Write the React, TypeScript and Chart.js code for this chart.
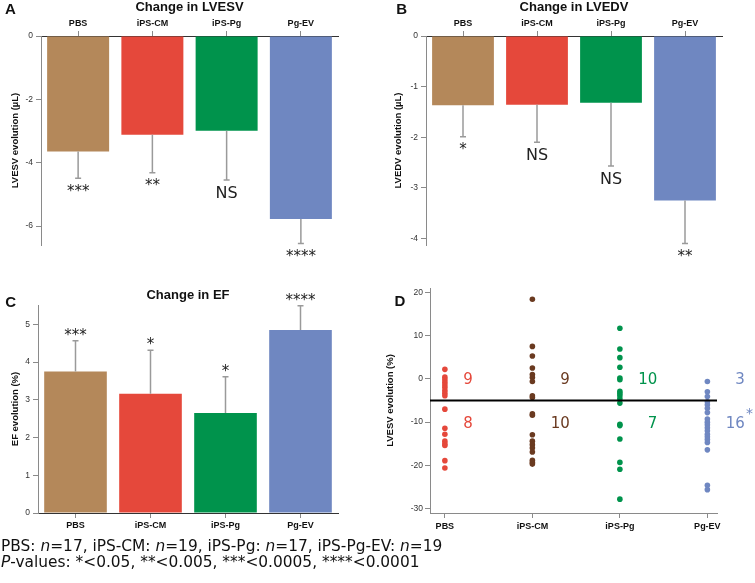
import React, { useEffect, useRef } from "react";
import { Chart, registerables } from "chart.js";
Chart.register(...registerables);

const groups = ["PBS", "iPS-CM", "iPS-Pg", "Pg-EV"];
const barColors = ["#B4885A", "#E5483B", "#00934C", "#6F87C1"];
const dotColors = ["#E5483B", "#6A3A20", "#00934C", "#6F87C1"];

const lvesvMean = [-3.65, -3.12, -2.99, -5.78];
const lvesvErr = [0.84, 1.2, 1.56, 0.77];
const lvesvSig = ["***", "**", "NS", "****"];
const lvesvTicks = [0, -2, -4, -6];

const lvedvMean = [-1.37, -1.36, -1.32, -3.25];
const lvedvErr = [0.62, 0.74, 1.25, 0.85];
const lvedvSig = ["*", "NS", "NS", "**"];
const lvedvTicks = [0, -1, -2, -3, -4];

const efMean = [3.75, 3.16, 2.65, 4.85];
const efErr = [0.81, 1.15, 0.96, 0.64];
const efSig = ["***", "*", "*", "****"];
const efTicks = [0, 1, 2, 3, 4, 5];

const dPBS = [2.2, 0.4, -0.2, -0.8, -1.4, -2.0, -2.7, -3.3, -3.9, -7.0, -11.4, -12.8, -14.4, -15.0, -15.4, -18.9, -20.6];
const dCM = [18.4, 7.5, 5.3, 2.5, 1.0, 0.3, -0.6, -3.9, -4.3, -8.1, -8.4, -12.9, -14.4, -15.2, -16.0, -16.9, -18.8, -19.3, -19.7];
const dPg = [11.7, 6.9, 4.9, 2.7, 0.2, -0.2, -2.9, -3.4, -3.9, -4.6, -5.6, -10.5, -10.8, -13.9, -19.3, -20.9, -27.8];
const dEV = [-0.6, -3.0, -4.1, -5.3, -6.0, -6.8, -7.8, -9.3, -10.0, -10.6, -11.3, -12.0, -12.8, -13.4, -14.0, -14.7, -16.4, -24.6, -25.6];
const dThreshold = -5;
const dAbove = [9, 9, 10, 3];
const dBelow = [8, 10, 7, 16];
const dBelowMark = ["", "", "", "*"];
const dTicks = [20, 10, 0, -10, -20, -30];

const SANS = "'Liberation Sans', Arial, sans-serif";
const DJ = "'DejaVu Sans', sans-serif";

type BarP = {
  title: string; letter: string; letterX: number; letterY: number; yTitle: string; yTitleX: number;
  means: number[]; errs: number[]; sig: string[]; titleY: number;
};

function barPlugin(p: BarP) {
  return {
    id: "barExtras",
    afterDatasetsDraw(chart: any) {
      const { ctx } = chart;
      const x = chart.scales.x, y = chart.scales.y;
      const ca = chart.chartArea;
      ctx.save();
      p.means.forEach((m, i) => {
        const dir = m < 0 ? -1 : 1;
        const end = m + dir * p.errs[i];
        const px = x.getPixelForValue(i);
        const y0 = y.getPixelForValue(m), y1 = y.getPixelForValue(end);
        ctx.strokeStyle = "#9a9a9a";
        ctx.lineWidth = 1.5;
        ctx.beginPath();
        ctx.moveTo(px, y0); ctx.lineTo(px, y1);
        ctx.moveTo(px - 3, y1); ctx.lineTo(px + 3, y1);
        ctx.stroke();
        const s = p.sig[i];
        ctx.fillStyle = "#222";
        ctx.font = (s === "NS" ? "16px " : "15px ") + DJ;
        ctx.textAlign = "center";
        ctx.textBaseline = "alphabetic";
        ctx.fillText(s, px, dir < 0 ? y1 + 17.5 : y1 - 1);
      });
      ctx.fillStyle = "#111";
      ctx.font = "bold 13px " + SANS;
      ctx.textAlign = "center";
      ctx.textBaseline = "middle";
      ctx.fillText(p.title, (ca.left + ca.right) / 2, p.titleY);
      ctx.font = "bold 15px " + SANS;
      ctx.fillText(p.letter, p.letterX, p.letterY);
      ctx.translate(p.yTitleX, (ca.top + ca.bottom) / 2);
      ctx.rotate(-Math.PI / 2);
      ctx.font = "bold 9.5px " + SANS;
      ctx.fillText(p.yTitle, 0, 0);
      ctx.restore();
    },
  };
}

function axisCommon() {
  return {
    grid: { display: true, drawOnChartArea: false, drawTicks: true, tickLength: 5, color: "#8a8a8a", offset: false },
    border: { display: true, color: "#8a8a8a", width: 1 },
  };
}

function barConfig(o: {
  means: number[]; errs: number[]; sig: string[]; min: number; max: number; ticks: number[];
  xPos: string; xH: number; yW: number; pad: any; title: string; titleY: number; letter: string;
  letterX: number; letterY: number; yTitle: string; yTitleX: number;
}) {
  return {
    type: "bar",
    data: {
      labels: groups,
      datasets: [{
        data: o.means, backgroundColor: barColors, borderWidth: 0,
        categoryPercentage: 1, barPercentage: 0.835,
      }],
    },
    options: {
      responsive: false, animation: false, devicePixelRatio: 1,
      layout: { padding: o.pad },
      plugins: { legend: { display: false }, tooltip: { enabled: false }, title: { display: false } },
      scales: {
        x: {
          position: o.xPos,
          ...axisCommon(),
          border: { display: true, color: "#333", width: 1 },
          ticks: { font: { family: SANS, size: 9, weight: "bold" }, color: "#111", padding: 2, maxRotation: 0 },
          afterFit: (s: any) => { s.height = o.xH; },
        },
        y: {
          min: o.min, max: o.max,
          ...axisCommon(),
          ticks: { font: { family: SANS, size: 8.5 }, color: "#333", padding: 3 },
          afterBuildTicks: (s: any) => { s.ticks = o.ticks.map((v) => ({ value: v })); },
          afterFit: (s: any) => { s.width = o.yW; },
        },
      },
    },
    plugins: [barPlugin({
      title: o.title, letter: o.letter, letterX: o.letterX, letterY: o.letterY, yTitle: o.yTitle,
      yTitleX: o.yTitleX, means: o.means, errs: o.errs, sig: o.sig, titleY: o.titleY,
    })],
  };
}

const dxMin = -0.17, dxMax = 3.11;

function dConfig() {
  const sets = [dPBS, dCM, dPg, dEV];
  const countOffsets = [28, 37.5, 37.5, 37.5];
  const plugin = {
    id: "dExtras",
    afterDatasetsDraw(chart: any) {
      const { ctx } = chart;
      const x = chart.scales.x, y = chart.scales.y;
      const ca = chart.chartArea;
      ctx.save();
      groups.forEach((g, i) => {
        const rx = x.getPixelForValue(i) + countOffsets[i];
        ctx.fillStyle = dotColors[i];
        ctx.font = "15px " + DJ;
        ctx.textAlign = "right";
        ctx.textBaseline = "alphabetic";
        ctx.fillText(String(dAbove[i]), rx, y.getPixelForValue(0) + 5.5);
        ctx.fillText(String(dBelow[i]), rx, y.getPixelForValue(-10) + 5.5);
        if (dBelowMark[i]) {
          ctx.font = "14px " + DJ;
          ctx.textAlign = "left";
          ctx.fillText(dBelowMark[i], rx + 1, y.getPixelForValue(-10) - 4);
        }
      });
      ctx.fillStyle = "#111";
      ctx.font = "bold 15px " + SANS;
      ctx.textAlign = "center";
      ctx.textBaseline = "middle";
      ctx.fillText("D", 25, 32.3);
      ctx.translate(15, (ca.top + ca.bottom) / 2);
      ctx.rotate(-Math.PI / 2);
      ctx.font = "bold 9.5px " + SANS;
      ctx.fillText("LVESV evolution (%)", 0, 0);
      ctx.restore();
    },
  };
  return {
    type: "scatter",
    data: {
      datasets: [
        ...sets.map((arr, gi) => ({
          data: arr.map((v) => ({ x: gi, y: v })),
          backgroundColor: dotColors[gi], borderWidth: 0, pointRadius: 2.8, order: 1,
        })),
        {
          type: "line",
          data: [{ x: dxMin, y: dThreshold }, { x: dxMax, y: dThreshold }],
          borderColor: "#000", borderWidth: 2, pointRadius: 0, order: 0,
        },
      ],
    },
    options: {
      responsive: false, animation: false, devicePixelRatio: 1,
      layout: { padding: { left: 0, top: 18, right: 38, bottom: 0 } },
      plugins: { legend: { display: false }, tooltip: { enabled: false } },
      scales: {
        x: {
          type: "linear", min: dxMin, max: dxMax,
          ...axisCommon(),
          ticks: {
            font: { family: SANS, size: 9, weight: "bold" }, color: "#111", padding: 3, maxRotation: 0,
            callback: (v: any) => groups[Math.round(v)] ?? "",
          },
          afterBuildTicks: (s: any) => { s.ticks = [0, 1, 2, 3].map((v) => ({ value: v })); },
          afterFit: (s: any) => { s.height = 27; },
        },
        y: {
          min: -31, max: 21,
          ...axisCommon(),
          ticks: { font: { family: SANS, size: 8.5 }, color: "#333", padding: 2 },
          afterBuildTicks: (s: any) => { s.ticks = dTicks.map((v) => ({ value: v })); },
          afterFit: (s: any) => { s.width = 55; },
        },
      },
    },
    plugins: [plugin],
  };
}

function ChartBox(props: { left: number; top: number; width: number; height: number; make: () => any }) {
  const ref = useRef<HTMLCanvasElement | null>(null);
  useEffect(() => {
    const chart = new Chart(ref.current as HTMLCanvasElement, props.make());
    return () => chart.destroy();
  }, []);
  return (
    <canvas
      ref={ref}
      width={props.width}
      height={props.height}
      style={{ position: "absolute", left: props.left, top: props.top, width: props.width, height: props.height }}
    />
  );
}

export default function App() {
  const foot = { position: "absolute" as const, left: 1, fontFamily: "'DejaVu Sans', sans-serif", fontSize: 15.4, lineHeight: "16px", color: "#111", whiteSpace: "nowrap" as const };
  return (
    <div style={{ position: "absolute", left: 0, top: 0, width: 755, height: 583, background: "#fff", overflow: "hidden" }}>
      <ChartBox left={0} top={0} width={375} height={270} make={() => barConfig({
        means: lvesvMean, errs: lvesvErr, sig: lvesvSig, min: -6.6, max: 0, ticks: lvesvTicks,
        xPos: "top", xH: 36, yW: 41, pad: { left: 0, top: 0, right: 37, bottom: 25 },
        title: "Change in LVESV", titleY: 7.5, letter: "A", letterX: 10.5, letterY: 10.3,
        yTitle: "LVESV evolution (µL)", yTitleX: 15,
      })} />
      <ChartBox left={375} top={0} width={380} height={270} make={() => barConfig({
        means: lvedvMean, errs: lvedvErr, sig: lvedvSig, min: -4.13, max: 0, ticks: lvedvTicks,
        xPos: "top", xH: 36, yW: 51, pad: { left: 0, top: 0, right: 33, bottom: 25 },
        title: "Change in LVEDV", titleY: 7.5, letter: "B", letterX: 26.7, letterY: 10.3,
        yTitle: "LVEDV evolution (µL)", yTitleX: 23.3,
      })} />
      <ChartBox left={0} top={270} width={375} height={270} make={() => barConfig({
        means: efMean, errs: efErr, sig: efSig, min: 0, max: 5.51, ticks: efTicks,
        xPos: "bottom", xH: 27, yW: 38, pad: { left: 0, top: 35, right: 37, bottom: 0 },
        title: "Change in EF", titleY: 25, letter: "C", letterX: 10.7, letterY: 33.3,
        yTitle: "EF evolution (%)", yTitleX: 15,
      })} />
      <ChartBox left={375} top={270} width={380} height={270} make={dConfig} />
      <div style={{ ...foot, top: 538 }}>PBS: <i>n</i>=17, iPS-CM: <i>n</i>=19, iPS-Pg: <i>n</i>=17, iPS-Pg-EV: <i>n</i>=19</div>
      <div style={{ ...foot, top: 553.7 }}><i>P</i>-values: *&lt;0.05, **&lt;0.005, ***&lt;0.0005, ****&lt;0.0001</div>
    </div>
  );
}
